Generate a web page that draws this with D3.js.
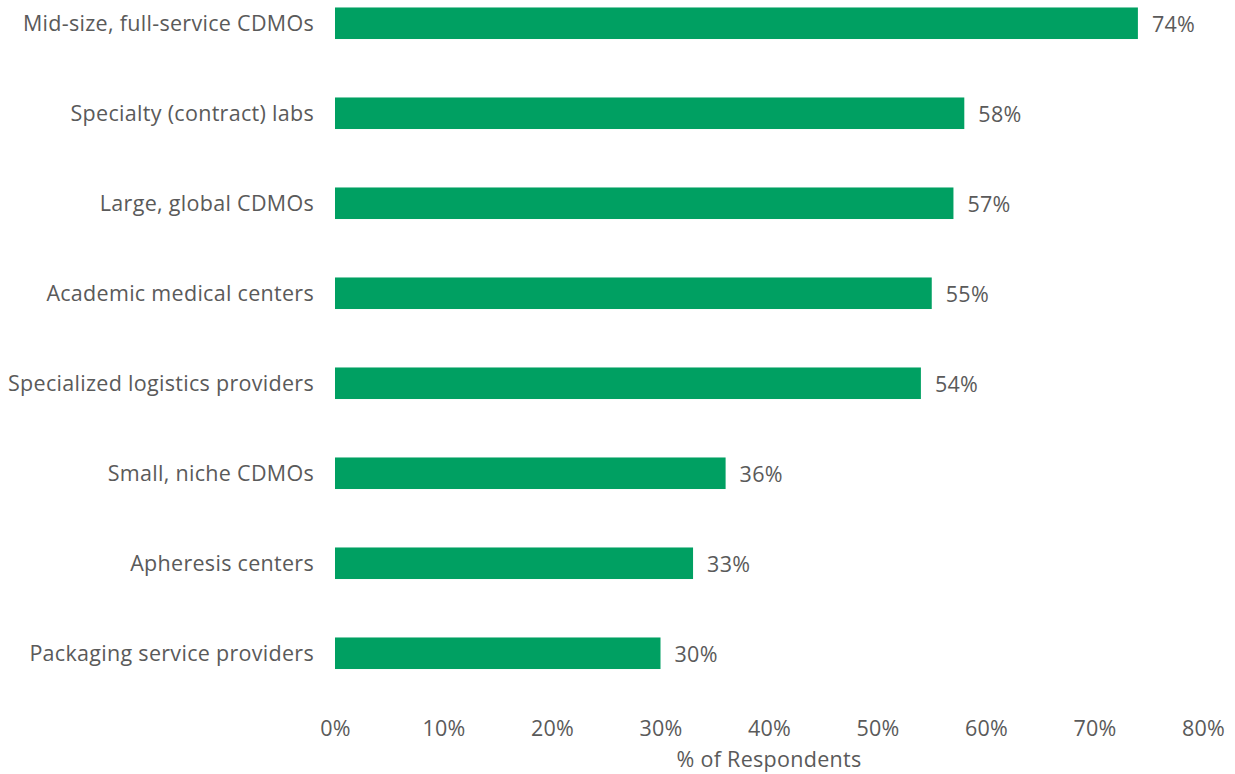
<!DOCTYPE html>
<html>
<head>
<meta charset="utf-8">
<script src="https://cdn.jsdelivr.net/npm/d3@7"></script>
<style>
  body { margin: 0; background: #fff; }
  svg text { font-family: "Open Sans", sans-serif; fill: #5a5a5a; font-size: 21.5px; font-weight: 400; letter-spacing: 0.3px; }
</style>
</head>
<body>
<svg width="1235" height="774"></svg>
<script>
// categories, top to bottom
var categories = [
  "Mid-size, full-service CDMOs",
  "Specialty (contract) labs",
  "Large, global CDMOs",
  "Academic medical centers",
  "Specialized logistics providers",
  "Small, niche CDMOs",
  "Apheresis centers",
  "Packaging service providers"
];
var values = [74, 58, 57, 55, 54, 36, 33, 30];
var ticks = [0, 10, 20, 30, 40, 50, 60, 70, 80];

var svg = d3.select("svg");
var plotLeft = 335, plotRight = 1203;
var plotTop = -22, plotBottom = 698;

var x = d3.scaleLinear().domain([0, 80]).range([plotLeft, plotRight]);
var y = d3.scaleBand().domain(categories).range([plotTop, plotBottom]).paddingInner(0.655).paddingOuter(0.3275);

var rows = categories.map(function (c, i) { return { name: c, value: values[i] }; });

svg.selectAll("rect.bar")
  .data(rows)
  .enter().append("rect")
  .attr("class", "bar")
  .attr("x", x(0))
  .attr("y", function (d) { return y(d.name); })
  .attr("width", function (d) { return x(d.value) - x(0); })
  .attr("height", y.bandwidth() + 0.5)
  .attr("fill", "#00a062");

// category labels
svg.selectAll("text.cat")
  .data(rows)
  .enter().append("text")
  .attr("class", "cat")
  .attr("x", x(0) - 21)
  .attr("y", function (d) { return y(d.name) + y.bandwidth() / 2; })
  .attr("dy", "0.35em")
  .attr("text-anchor", "end")
  .text(function (d) { return d.name; });

// value labels
svg.selectAll("text.val")
  .data(rows)
  .enter().append("text")
  .attr("class", "val")
  .attr("x", function (d) { return x(d.value) + 14; })
  .attr("y", function (d) { return y(d.name) + y.bandwidth() / 2 + 1; })
  .attr("dy", "0.35em")
  .text(function (d) { return d.value + "%"; });

// x axis (no line, no ticks)
var axis = svg.append("g")
  .attr("transform", "translate(0,718)")
  .call(d3.axisBottom(x).tickValues(ticks).tickSize(0).tickPadding(0).tickFormat(function (d) { return d + "%"; }));
axis.select(".domain").remove();
axis.selectAll("text")
  .attr("dy", "0.35em")
  .attr("y", 10)
  .style("font-size", "21.5px")
  .style("font-family", "'Open Sans', sans-serif")
  .attr("fill", "#5a5a5a");

svg.append("text")
  .attr("x", (plotLeft + plotRight) / 2)
  .attr("y", 759)
  .attr("dy", "0.35em")
  .attr("text-anchor", "middle")
  .text("% of Respondents");
</script>
</body>
</html>
